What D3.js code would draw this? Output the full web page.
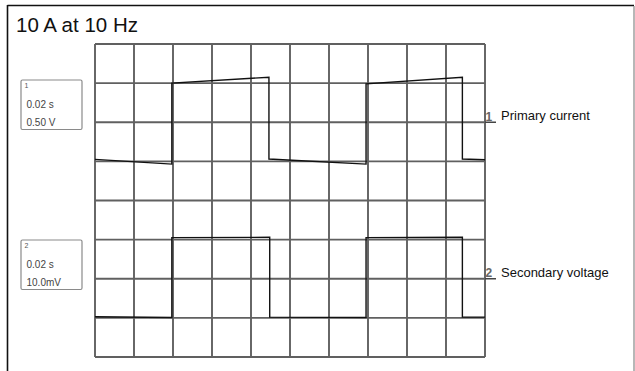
<!DOCTYPE html>
<html>
<head>
<meta charset="utf-8">
<script src="https://cdn.jsdelivr.net/npm/d3@7/dist/d3.min.js"></script>
<style>
  html, body { margin: 0; padding: 0; background: #fff; }
  svg { display: block; font-family: "Liberation Sans", Arial, sans-serif; }
</style>
</head>
<body>
<div id="chart"></div>
<script>
// ---- data (time in divisions, amplitude in divisions from screen centre) ----
const title = "10 A at 10 Hz";
const xDivisions = d3.range(0, 11);          // 10 horizontal divisions
const yDivisions = d3.range(-4, 5);          // 8 vertical divisions
const primaryTime  = [0, 1.97, 1.97, 4.46, 4.46, 6.95, 6.95, 9.42, 9.42, 10];
const primaryValue = [1.05, 0.93, 3.00, 3.15, 1.06, 0.93, 2.98, 3.15, 1.06, 1.04];
const secondaryTime  = [0, 1.97, 1.97, 4.48, 4.48, 6.95, 6.95, 9.42, 9.42, 10];
const secondaryValue = [-2.97, -2.99, -0.95, -0.94, -2.98, -2.99, -0.95, -0.94, -2.98, -2.98];
const seriesNames = ["Primary current", "Secondary voltage"];
const channelIds = ["1", "2"];
const channelMarkerLevel = [2.0, -2.0];
const channelSettings = [["0.02 s", "0.50 V"], ["0.02 s", "10.0mV"]];

const W = 635, H = 371;
const svg = d3.select("#chart").append("svg").attr("width", W).attr("height", H);

const x = d3.scaleLinear().domain([0, 10]).range([95, 485]);
const y = d3.scaleLinear().domain([-4, 4]).range([357, 44]);

// outer frame (top, left, right)
svg.append("line").attr("x1", 7.5).attr("x2", 634).attr("y1", 5.5).attr("y2", 5.5)
  .attr("stroke", "#111").attr("stroke-width", 1.6);
svg.append("line").attr("x1", 7.5).attr("x2", 7.5).attr("y1", 5).attr("y2", H)
  .attr("stroke", "#111").attr("stroke-width", 1.6);
svg.append("line").attr("x1", 634).attr("x2", 634).attr("y1", 6).attr("y2", H)
  .attr("stroke", "#999").attr("stroke-width", 1.4);

// title
svg.append("text").attr("x", 16).attr("y", 31.5).attr("font-size", 20.5)
  .attr("fill", "#111").text(title);

// grid
const g = svg.append("g");
g.selectAll("line.v").data(xDivisions).join("line").attr("class", "v")
  .attr("x1", d => x(d)).attr("x2", d => x(d))
  .attr("y1", y(4)).attr("y2", y(-4))
  .attr("stroke", "#606060").attr("stroke-width", 1.9);
g.selectAll("line.h").data(yDivisions).join("line").attr("class", "h")
  .attr("x1", x(0)).attr("x2", x(10))
  .attr("y1", d => y(d)).attr("y2", d => y(d))
  .attr("stroke", "#606060").attr("stroke-width", 1.9);

// traces
const line = d3.line().x(d => x(d[0])).y(d => y(d[1]));
const traces = [
  d3.zip(primaryTime, primaryValue),
  d3.zip(secondaryTime, secondaryValue)
];
svg.selectAll("path.trace").data(traces).join("path").attr("class", "trace")
  .attr("d", line).attr("fill", "none")
  .attr("stroke", "#111").attr("stroke-width", 1.4);

// channel markers and series labels
channelIds.forEach((id, i) => {
  const yy = y(channelMarkerLevel[i]);
  svg.append("text").attr("x", 485.5).attr("y", yy - 1.5).attr("font-size", 12)
    .attr("font-weight", "bold").attr("fill", "#666").text(id);
  svg.append("line").attr("x1", 485).attr("x2", 496).attr("y1", yy).attr("y2", yy)
    .attr("stroke", "#444").attr("stroke-width", 1.5);
  svg.append("text").attr("x", 501).attr("y", yy - 2).attr("font-size", 13)
    .attr("fill", "#111").text(seriesNames[i]);
});

// settings boxes
const boxTop = [80, 240];
channelSettings.forEach((lines, i) => {
  const bx = 21, by = boxTop[i];
  svg.append("rect").attr("x", bx).attr("y", by).attr("width", 61).attr("height", 49.5)
    .attr("rx", 1.5).attr("fill", "none").attr("stroke", "#8a8a8a").attr("stroke-width", 1.2);
  svg.append("text").attr("x", bx + 3.5).attr("y", by + 8).attr("font-size", 7)
    .attr("fill", "#555").text(channelIds[i]);
  lines.forEach((t, j) => {
    svg.append("text").attr("x", bx + 5.5).attr("y", by + 27.5 + j * 18.5)
      .attr("font-size", 10).attr("fill", "#444").text(t);
  });
});
</script>
</body>
</html>
